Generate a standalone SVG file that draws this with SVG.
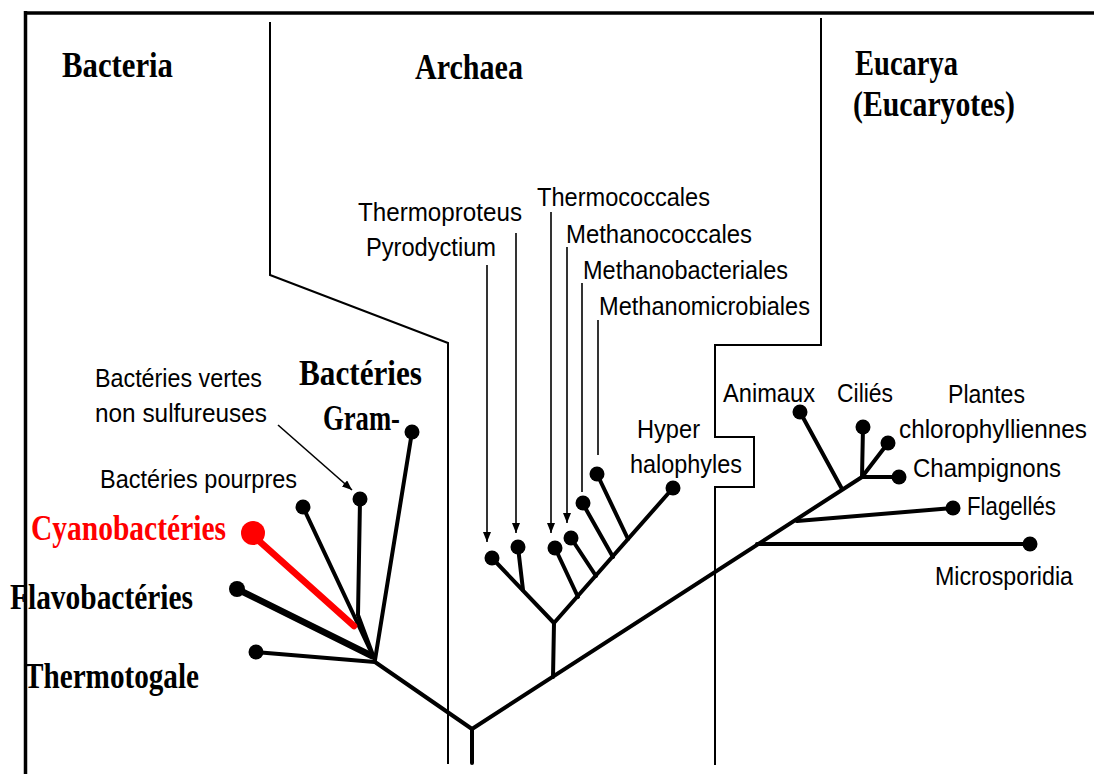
<svg xmlns="http://www.w3.org/2000/svg" width="1094" height="774" viewBox="0 0 1094 774">
<defs>
<marker id="ah" viewBox="0 0 10 8" refX="10" refY="4" markerWidth="10" markerHeight="8" markerUnits="userSpaceOnUse" orient="auto">
<path d="M0,0 L10,4 L0,8 Z" fill="#000"/>
</marker>
<style>
.title{font-family:"Liberation Serif","Times New Roman",serif;font-weight:bold;font-size:35px;fill:#000}
.red{fill:#ff0000}
.lbl{font-family:"Liberation Sans",Arial,sans-serif;font-size:25.5px;fill:#000}
.div{stroke:#000;stroke-width:2;fill:none}
.br{stroke:#000;stroke-width:4;fill:none;stroke-linecap:round;stroke-linejoin:round}
.arr{stroke:#000;stroke-width:1.6;fill:none}
.dot{fill:#000}
</style>
</defs>
<rect width="1094" height="774" fill="#fff"/>
<g id="frame">
<line x1="24" y1="13" x2="1094" y2="13" stroke="#000" stroke-width="3.5"/>
<line x1="25.5" y1="11" x2="25.5" y2="774" stroke="#000" stroke-width="3.5"/>
<polyline class="div" points="270,22 270,275 448,343 448,764"/>
<polyline class="div" points="821,18 821,345 715,345 715,437 754,437 754,487 715,487 715,765"/>
</g>
<g id="domain-titles">
<text class="title" x="62" y="77" textLength="111" lengthAdjust="spacingAndGlyphs">Bacteria</text>
<text class="title" x="415" y="79" textLength="108" lengthAdjust="spacingAndGlyphs">Archaea</text>
<text class="title" x="855" y="75" textLength="103" lengthAdjust="spacingAndGlyphs">Eucarya</text>
<text class="title" x="853" y="116" textLength="162" lengthAdjust="spacingAndGlyphs">(Eucaryotes)</text>
</g>
<g id="connectors">
<polyline class="br" points="472,763 472,729"/>
<polyline class="br" points="375,662 472,729 862,477"/>
<line class="br" x1="255" y1="652" x2="375" y2="662"/>
<line x1="237" y1="589" x2="372" y2="656" stroke="#000" stroke-width="6.5" stroke-linecap="round"/>
<line x1="303" y1="507" x2="373" y2="656" class="br"/>
<polyline class="br" points="360,500 358,615 374,658"/>
<line class="br" x1="412" y1="432" x2="375" y2="660"/>
<line x1="258" y1="540" x2="354" y2="626" stroke="#ff0000" stroke-width="6.5" stroke-linecap="round"/>
<polyline class="br" points="553,677 554,623"/>
<line class="br" x1="554" y1="623" x2="492" y2="558"/>
<line class="br" x1="523" y1="590" x2="518" y2="547"/>
<line class="br" x1="554" y1="623" x2="673" y2="488"/>
<line class="br" x1="578" y1="597" x2="555" y2="548"/>
<line class="br" x1="596" y1="576" x2="571" y2="538"/>
<line class="br" x1="613" y1="557" x2="583" y2="504"/>
<line class="br" x1="628" y1="539" x2="597" y2="474"/>
<line class="br" x1="757" y1="544" x2="1030" y2="544"/>
<line class="br" x1="797" y1="521" x2="953" y2="508"/>
<line class="br" x1="842" y1="489" x2="800" y2="412"/>
<line class="br" x1="862" y1="477" x2="863" y2="427"/>
<line class="br" x1="862" y1="477" x2="888" y2="443"/>
<line class="br" x1="862" y1="477" x2="899" y2="477"/>
<line class="arr" x1="487" y1="265" x2="487" y2="542" marker-end="url(#ah)"/>
<line class="arr" x1="516" y1="233" x2="516" y2="533" marker-end="url(#ah)"/>
<line class="arr" x1="551" y1="212" x2="551" y2="533" marker-end="url(#ah)"/>
<line class="arr" x1="567" y1="247" x2="567" y2="523" marker-end="url(#ah)"/>
<line class="arr" x1="582" y1="283" x2="582" y2="492"/>
<line class="arr" x1="598" y1="320" x2="598" y2="455"/>
<line class="arr" x1="278" y1="425" x2="352" y2="490" stroke-width="1.2" marker-end="url(#ah)"/>
</g>
<g id="thermotogale"><circle class="dot" cx="256" cy="652" r="7.5"/><text class="title" x="24" y="688" textLength="175" lengthAdjust="spacingAndGlyphs">Thermotogale</text></g>
<g id="flavobacteries"><circle class="dot" cx="237" cy="589" r="8"/><text class="title" x="10" y="609" textLength="183" lengthAdjust="spacingAndGlyphs">Flavobactéries</text></g>
<g id="cyanobacteries"><circle class="red" cx="253" cy="533" r="12"/><text class="title red" x="31" y="540" textLength="195" lengthAdjust="spacingAndGlyphs">Cyanobactéries</text></g>
<g id="bacteries-pourpres"><circle class="dot" cx="303" cy="507" r="7.5"/><text class="lbl" x="100" y="488" textLength="197" lengthAdjust="spacingAndGlyphs">Bactéries pourpres</text></g>
<g id="bacteries-vertes"><circle class="dot" cx="360" cy="499" r="7.5"/><text class="lbl" x="95" y="387" textLength="167" lengthAdjust="spacingAndGlyphs">Bactéries vertes</text><text class="lbl" x="95" y="422" textLength="172" lengthAdjust="spacingAndGlyphs">non sulfureuses</text></g>
<g id="gram-negatives"><circle class="dot" cx="412" cy="432" r="7.5"/><text class="title" x="299" y="385" textLength="123" lengthAdjust="spacingAndGlyphs">Bactéries</text><text class="title" x="323" y="430" textLength="77" lengthAdjust="spacingAndGlyphs">Gram-</text></g>
<g id="pyrodyctium"><circle class="dot" cx="492" cy="558" r="7.5"/><text class="lbl" x="366" y="256" textLength="130" lengthAdjust="spacingAndGlyphs">Pyrodyctium</text></g>
<g id="thermoproteus"><circle class="dot" cx="518" cy="547" r="7.5"/><text class="lbl" x="358" y="221" textLength="164" lengthAdjust="spacingAndGlyphs">Thermoproteus</text></g>
<g id="thermococcales"><circle class="dot" cx="555" cy="548" r="7.5"/><text class="lbl" x="537" y="206" textLength="173" lengthAdjust="spacingAndGlyphs">Thermococcales</text></g>
<g id="methanococcales"><circle class="dot" cx="571" cy="538" r="7.5"/><text class="lbl" x="566" y="243" textLength="186" lengthAdjust="spacingAndGlyphs">Methanococcales</text></g>
<g id="methanobacteriales"><circle class="dot" cx="583" cy="503" r="7.5"/><text class="lbl" x="583" y="279" textLength="205" lengthAdjust="spacingAndGlyphs">Methanobacteriales</text></g>
<g id="methanomicrobiales"><circle class="dot" cx="597" cy="474" r="7.5"/><text class="lbl" x="599" y="315" textLength="211" lengthAdjust="spacingAndGlyphs">Methanomicrobiales</text></g>
<g id="hyperhalophyles"><circle class="dot" cx="673" cy="488" r="7.5"/><text class="lbl" x="637" y="438" textLength="63" lengthAdjust="spacingAndGlyphs">Hyper</text><text class="lbl" x="630" y="473" textLength="112" lengthAdjust="spacingAndGlyphs">halophyles</text></g>
<g id="animaux"><circle class="dot" cx="800" cy="412" r="7.5"/><text class="lbl" x="723" y="402" textLength="92" lengthAdjust="spacingAndGlyphs">Animaux</text></g>
<g id="cilies"><circle class="dot" cx="863" cy="427" r="7.5"/><text class="lbl" x="837" y="402" textLength="56" lengthAdjust="spacingAndGlyphs">Ciliés</text></g>
<g id="plantes"><circle class="dot" cx="888" cy="443" r="7.5"/><text class="lbl" x="948" y="403" textLength="77" lengthAdjust="spacingAndGlyphs">Plantes</text><text class="lbl" x="899" y="438" textLength="188" lengthAdjust="spacingAndGlyphs">chlorophylliennes</text></g>
<g id="champignons"><circle class="dot" cx="899" cy="477" r="7.5"/><text class="lbl" x="913" y="477" textLength="148" lengthAdjust="spacingAndGlyphs">Champignons</text></g>
<g id="flagelles"><circle class="dot" cx="953" cy="508" r="7.5"/><text class="lbl" x="967" y="515" textLength="89" lengthAdjust="spacingAndGlyphs">Flagellés</text></g>
<g id="microsporidia"><circle class="dot" cx="1030" cy="544" r="7.5"/><text class="lbl" x="935" y="585" textLength="138" lengthAdjust="spacingAndGlyphs">Microsporidia</text></g>
</svg>
